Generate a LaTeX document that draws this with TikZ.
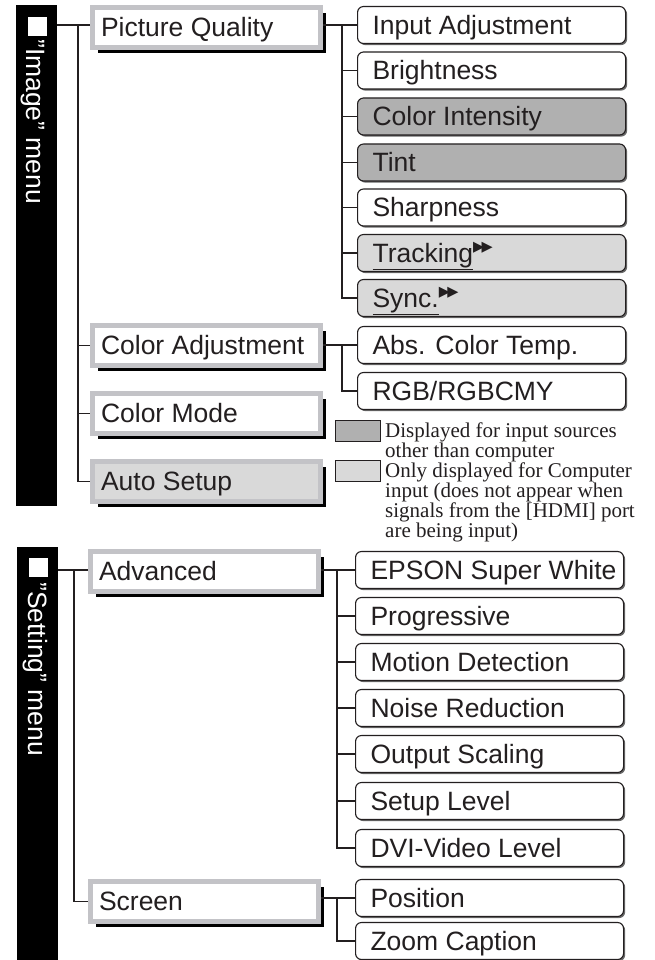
\documentclass[tikz,border=0pt]{standalone}
\usepackage{fontspec}
\setmainfont{Liberation Sans}
\newfontfamily\serifleg{Liberation Serif}
\newfontfamily\symf{DejaVu Sans}
\usetikzlibrary{shadows}
\definecolor{ink}{RGB}{35,31,32}
\definecolor{frame}{RGB}{195,195,199}
\definecolor{darkfill}{RGB}{176,176,176}
\definecolor{lightfill}{RGB}{217,217,217}
\definecolor{shade}{RGB}{105,105,105}
\newlength\ltw
\newcommand\LT[1]{\makebox[\ltw][l]{#1}}
\newcommand\ff{\raisebox{11pt}{\symf\fontsize{14.5}{14.5}\selectfont ▶\kern-2.6pt▶}}
\newcommand\qq{\char"22\relax}
\pgfdeclarelayer{bg}
\pgfsetlayers{bg,main}
\begin{document}
\begin{tikzpicture}[x=1pt,y=-1pt,
  every node/.style={text=ink},
  bigfont/.style={font=\fontsize{26.5}{30}\selectfont},
  conn/.style={draw=ink, line width=1.8pt},
  bar/.style={fill=black, inner sep=0pt, outer sep=0pt, minimum width=41pt, anchor=north west},
  sq/.style={fill=white, inner sep=0pt, minimum size=18.5pt, anchor=north west},
  vtext/.style={bigfont, rotate=-90, text=white, inner sep=0pt, anchor=base west},
  lone/.style={bigfont, draw=frame, line width=5pt, outer sep=2.5pt, inner xsep=8.5pt, inner ysep=0pt,
     minimum width=228pt, minimum height=40pt, fill=white, text height=24pt, text depth=5.4pt, anchor=north west},
  ltwo/.style={bigfont, draw=ink, line width=1.1pt, rounded corners=6pt, fill=white, minimum height=37pt,
     inner xsep=15pt, inner ysep=0pt, text height=24pt, text depth=5.4pt, anchor=west,
     drop shadow={shadow xshift=1.6pt, shadow yshift=-1.6pt, fill=shade, opacity=1}},
  dk/.style={fill=darkfill},
  lt/.style={fill=lightfill},
  swatch/.style={draw=ink, line width=0.8pt, minimum width=45pt, minimum height=21pt, inner sep=0pt, anchor=north west},
  legtext/.style={align=left, inner sep=0pt, anchor=base west, font=\serifleg\fontsize{21}{19.7}\selectfont}
]
\useasboundingbox (0,0) rectangle (655,960);

% ---------- "Image" menu ----------
\node[bar, minimum height=501pt] (ibar) at (16,5) {};
\node[sq] (isq) at (28,17) {};
\node[vtext] (itxt) at (27,39) {\qq Image\qq\ menu};

\setlength\ltw{211pt}
\node[lone] (pq) at (90,5) {\LT{Picture Quality}};
\node[lone] (ca) at (90,323) {\LT{Color Adjustment}};
\node[lone] (cm) at (90,391) {\LT{Color Mode}};
\node[lone, fill=lightfill] (as) at (90,459) {\LT{Auto Setup}};

\setlength\ltw{238pt}
\node[ltwo] (ia) at (357,25) {\LT{Input Adjustment}};
\node[ltwo] (br) at (357,70.5) {\LT{Brightness}};
\node[ltwo, dk] (ci) at (357,116.5) {\LT{Color Intensity}};
\node[ltwo, dk] (ti) at (357,162.5) {\LT{Tint}};
\node[ltwo] (sh) at (357,207.5) {\LT{Sharpness}};
\node[ltwo, lt] (tr) at (357,253) {\LT{\underline{Tracking}\ff}};
\node[ltwo, lt] (sy) at (357,298) {\LT{\underline{Sync.}\ff}};
\node[ltwo] (act) at (357,345) {\LT{Abs. Color Temp.}};
\node[ltwo] (rgb) at (357,391) {\LT{RGB/RGBCMY}};

% ---------- legend ----------
\node[swatch, fill=darkfill] (sw1) at (335,420) {};
\node[swatch, fill=lightfill] (sw2) at (335,460) {};
\node[legtext] (lg1) at (385,457) {Displayed for input sources\\other than computer};
\node[legtext] (lg2) at (385,537) {Only displayed for Computer\\input (does not appear when\\signals from the [HDMI] port\\are being input)};

% ---------- "Setting" menu ----------
\node[bar, minimum height=413pt] (sbar) at (17,547) {};
\node[sq] (ssq) at (29,558) {};
\node[vtext] (stxt) at (28,582) {\qq Setting\qq\ menu};

\setlength\ltw{211pt}
\node[lone] (adv) at (88,549) {\LT{Advanced}};
\node[lone] (scr) at (88,879) {\LT{Screen}};

\setlength\ltw{238pt}
\node[ltwo] (esw) at (355,570) {\LT{EPSON Super White}};
\node[ltwo] (pro) at (355,616) {\LT{Progressive}};
\node[ltwo] (md) at (355,662) {\LT{Motion Detection}};
\node[ltwo] (nr) at (355,708) {\LT{Noise Reduction}};
\node[ltwo] (os) at (355,754) {\LT{Output Scaling}};
\node[ltwo] (sl) at (355,801) {\LT{Setup Level}};
\node[ltwo] (dvi) at (355,848) {\LT{DVI-Video Level}};
\node[ltwo] (pos) at (355,898) {\LT{Position}};
\node[ltwo] (zc) at (355,941) {\LT{Zoom Caption}};

% ---------- shadows of level-1 boxes ----------
\begin{pgfonlayer}{bg}
\foreach \n in {pq,ca,cm,as,adv,scr}
  \fill[black] ([shift={(8,8)}]\n.north west) rectangle ([shift={(3,3)}]\n.south east);
\end{pgfonlayer}

% ---------- connectors ----------
\coordinate (it) at (78,0);
\coordinate (rt) at (342,0);
\coordinate (st) at (74,0);
\coordinate (srt) at (337,0);

\draw[conn] (ibar.east |- ia.west) -- (pq.west |- ia.west);
\draw[conn] (it |- ia.west) |- (as.west);
\foreach \n in {ca,cm} \draw[conn] (it |- \n.west) -- (\n.west);

\draw[conn] (pq.east |- ia.west) -- (ia.west);
\draw[conn] (rt |- ia.west) |- (sy.west);
\foreach \n in {br,ci,ti,sh,tr} \draw[conn] (rt |- \n.west) -- (\n.west);

\draw[conn] (ca.east |- act.west) -- (act.west);
\draw[conn] (rt |- act.west) |- (rgb.west);

\draw[conn] (sbar.east |- esw.west) -- (adv.west |- esw.west);
\draw[conn] (st |- esw.west) |- (scr.west);

\draw[conn] (adv.east |- esw.west) -- (esw.west);
\draw[conn] (srt |- esw.west) |- (dvi.west);
\foreach \n in {pro,md,nr,os,sl} \draw[conn] (srt |- \n.west) -- (\n.west);

\draw[conn] (scr.east |- pos.west) -- (pos.west);
\draw[conn] (srt |- pos.west) |- (zc.west);
\end{tikzpicture}
\end{document}
